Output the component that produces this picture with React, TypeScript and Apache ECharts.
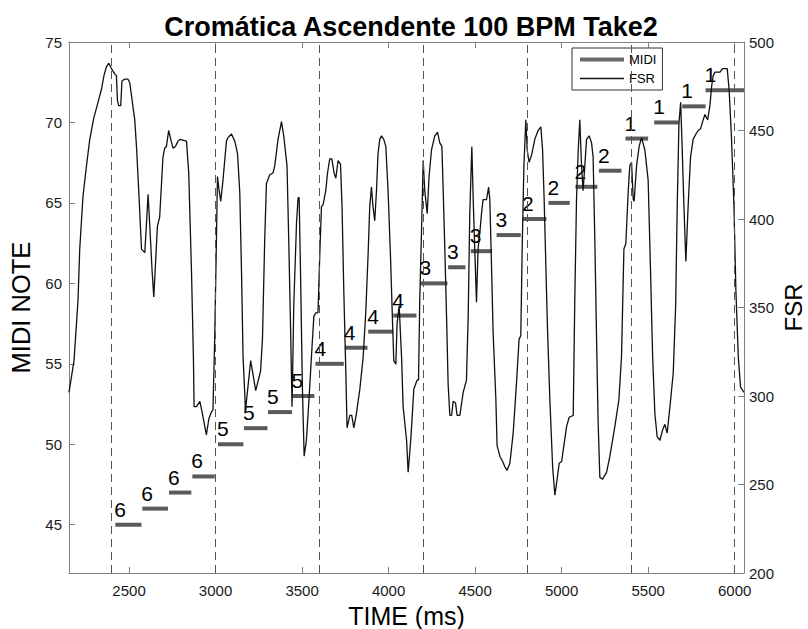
import React, { useEffect, useRef } from "react";
import * as echarts from "echarts";

const FONT = "Liberation Sans";

const TITLE = "Cromática Ascendente 100 BPM Take2";

// MIDI notes (time in ms)
const noteStart = [2421, 2577, 2731, 2866, 3014, 3164, 3303, 3444, 3577, 3747, 3882, 4027, 4184, 4344, 4475, 4624, 4777, 4924, 5080, 5216, 5369, 5535, 5697, 5832];
const noteEnd = [2572, 2725, 2860, 2995, 3161, 3300, 3442, 3571, 3741, 3878, 4027, 4161, 4340, 4444, 4598, 4764, 4912, 5047, 5207, 5346, 5500, 5677, 5832, 6054];
const notePitch = [45, 46, 47, 48, 50, 51, 52, 53, 55, 56, 57, 58, 60, 61, 62, 63, 64, 65, 66, 67, 69, 70, 71, 72];
const noteString = [6, 6, 6, 6, 5, 5, 5, 5, 4, 4, 4, 4, 3, 3, 3, 3, 2, 2, 2, 2, 1, 1, 1, 1];

// beat markers (ms)
const beatTimes = [2400, 3000, 3600, 4200, 4800, 5400, 6000];

// tick labels
const xTicks = [2500, 3000, 3500, 4000, 4500, 5000, 5500, 6000];
const midiTicks = [45, 50, 55, 60, 65, 70, 75];
const fsrTicks = [200, 250, 300, 350, 400, 450, 500];

// FSR samples [time ms, value]
const fsrSamples: [number, number][] = [
  [2153, 302], [2182, 320], [2205, 354], [2215, 383], [2234, 413], [2254, 430], [2273, 445], [2296, 457],
  [2321, 466], [2340, 473], [2355, 481], [2369, 486], [2383, 488], [2398, 485], [2417, 482], [2427, 481],
  [2433, 467], [2440, 464], [2452, 464], [2459, 478], [2475, 479], [2494, 479], [2504, 477], [2533, 456],
  [2543, 441], [2556, 416], [2572, 383], [2591, 381], [2600, 396], [2610, 414], [2620, 396], [2633, 371],
  [2643, 356], [2652, 373], [2664, 396], [2677, 401], [2696, 435], [2706, 440], [2716, 441], [2729, 450],
  [2741, 445], [2754, 440], [2768, 441], [2783, 444], [2793, 445], [2832, 444], [2845, 426], [2861, 370],
  [2872, 322], [2876, 294], [2890, 294], [2909, 297], [2922, 291], [2947, 278], [2961, 287], [2976, 291],
  [2985, 292], [2995, 332], [3005, 388], [3011, 424], [3018, 418], [3030, 410], [3043, 422], [3063, 444],
  [3072, 446], [3092, 448], [3111, 444], [3127, 437], [3140, 415], [3150, 370], [3159, 322], [3173, 292],
  [3203, 320], [3232, 303], [3260, 314], [3271, 332], [3284, 388], [3294, 420], [3313, 425], [3332, 426],
  [3342, 430], [3361, 445], [3381, 455], [3394, 447], [3413, 430], [3423, 388], [3433, 341], [3442, 294],
  [3452, 351], [3468, 398], [3477, 412], [3483, 412], [3491, 370], [3502, 304], [3512, 266], [3525, 275],
  [3540, 298], [3554, 322], [3568, 345], [3579, 347], [3592, 347], [3602, 379], [3612, 407], [3621, 408],
  [3637, 416], [3647, 426], [3660, 434], [3672, 434], [3685, 426], [3695, 423], [3708, 433], [3722, 431],
  [3731, 407], [3741, 360], [3753, 313], [3760, 282], [3776, 289], [3787, 289], [3799, 282], [3814, 290],
  [3834, 304], [3853, 322], [3868, 347], [3882, 381], [3891, 407], [3901, 418], [3910, 407], [3920, 399],
  [3930, 416], [3939, 437], [3949, 445], [3959, 447], [3972, 445], [3984, 441], [3997, 416], [4011, 379],
  [4023, 341], [4030, 320], [4042, 318], [4049, 341], [4061, 351], [4075, 322], [4084, 294], [4104, 275],
  [4113, 257], [4128, 275], [4146, 304], [4165, 309], [4173, 309], [4180, 354], [4190, 392], [4200, 433],
  [4209, 416], [4223, 403], [4234, 424], [4248, 439], [4267, 447], [4283, 449], [4296, 443], [4308, 441],
  [4315, 418], [4325, 383], [4335, 345], [4344, 307], [4354, 289], [4364, 289], [4373, 297], [4387, 296],
  [4396, 289], [4412, 289], [4431, 302], [4450, 309], [4460, 345], [4469, 402], [4481, 441], [4489, 411],
  [4498, 383], [4508, 353], [4517, 383], [4527, 392], [4537, 403], [4546, 411], [4566, 411], [4578, 418],
  [4585, 411], [4595, 373], [4604, 336], [4620, 298], [4627, 272], [4643, 266], [4659, 263], [4672, 260],
  [4685, 258], [4701, 262], [4720, 279], [4739, 307], [4754, 332], [4764, 334], [4772, 383], [4782, 430],
  [4793, 456], [4801, 439], [4812, 432], [4826, 436], [4845, 445], [4864, 450], [4880, 452], [4890, 439],
  [4899, 411], [4909, 373], [4919, 336], [4932, 298], [4948, 260], [4961, 244], [4974, 253], [4986, 262],
  [5000, 263], [5013, 272], [5029, 283], [5044, 288], [5067, 289], [5076, 354], [5086, 411], [5096, 439],
  [5105, 456], [5115, 430], [5124, 416], [5134, 430], [5144, 445], [5159, 447], [5173, 443], [5182, 435],
  [5192, 388], [5202, 332], [5211, 285], [5221, 254], [5237, 253], [5260, 257], [5279, 266], [5308, 283],
  [5331, 298], [5346, 322], [5360, 383], [5371, 386], [5385, 416], [5394, 430], [5404, 432], [5414, 411],
  [5419, 410], [5433, 430], [5448, 441], [5462, 446], [5481, 439], [5500, 422], [5514, 370], [5526, 322],
  [5539, 290], [5552, 277], [5568, 275], [5584, 281], [5597, 284], [5610, 279], [5626, 294], [5645, 313],
  [5659, 351], [5668, 407], [5678, 454], [5688, 466], [5695, 445], [5707, 407], [5718, 376], [5731, 407],
  [5745, 435], [5760, 445], [5776, 448], [5789, 450], [5803, 451], [5815, 455], [5828, 459], [5844, 456],
  [5857, 464], [5867, 475], [5876, 481], [5886, 483], [5896, 483], [5905, 483], [5915, 483], [5930, 485],
  [5944, 485], [5957, 485], [5968, 473], [5982, 445], [5996, 407], [6007, 360], [6021, 322], [6034, 305],
  [6054, 302],
];

const X_MIN = 2153;
const X_MAX = 6054;

export default function App() {
  const ref = useRef<HTMLDivElement>(null);

  useEffect(() => {
    if (!ref.current) return;
    const chart = echarts.init(ref.current, null, { renderer: "svg" });

    const noteData = noteStart.map((s, i) => [s, noteEnd[i], notePitch[i], noteString[i]]);

    const axisGray = "#808080";
    const labelColor = "#1a1a1a";
    const plain = (v: number) => String(v);
    const hiddenSymbol = { color: "rgba(0,0,0,0)", borderWidth: 0, opacity: 0 };

    const option: any = {
      animation: false,
      backgroundColor: "#ffffff",
      textStyle: { fontFamily: FONT },
      title: {
        text: TITLE,
        left: 406,
        textAlign: "center",
        top: 8,
        textStyle: { fontFamily: FONT, fontSize: 27, fontWeight: "bold", color: "#000" },
      },
      legend: {
        data: [
          { name: "MIDI", lineStyle: { width: 4, color: "#6a6a6a" }, itemStyle: hiddenSymbol },
          { name: "FSR", lineStyle: { width: 1.3, color: "#111" }, itemStyle: hiddenSymbol },
        ],
        orient: "vertical",
        left: 572,
        top: 48,
        padding: [5, 6, 5, 6],
        itemGap: 6,
        itemWidth: 44,
        itemHeight: 12,
        borderColor: "#333",
        borderWidth: 1,
        borderRadius: 0,
        backgroundColor: "#fff",
        selectedMode: false,
        textStyle: { fontFamily: FONT, fontSize: 13, color: "#000" },
      },
      grid: {
        left: 69,
        right: 64,
        top: 42,
        bottom: 56,
        containLabel: false,
        outerBoundsMode: "none",
      },
      xAxis: [
        {
          type: "value",
          min: X_MIN,
          max: X_MAX,
          position: "bottom",
          name: "TIME (ms)",
          nameLocation: "middle",
          nameGap: 30,
          nameTextStyle: { fontFamily: FONT, fontSize: 25, color: "#000" },
          axisLine: { show: true, onZero: false, lineStyle: { color: axisGray, width: 1 } },
          axisTick: { show: true, inside: true, length: 6, customValues: xTicks, lineStyle: { color: axisGray } },
          axisLabel: { show: true, customValues: xTicks, formatter: plain, margin: 10, fontSize: 15, fontFamily: FONT, color: labelColor },
          splitLine: { show: false },
        },
        {
          type: "value",
          min: X_MIN,
          max: X_MAX,
          position: "top",
          axisLine: { show: true, onZero: false, lineStyle: { color: axisGray, width: 1 } },
          axisTick: { show: true, inside: true, length: 6, customValues: xTicks, lineStyle: { color: axisGray } },
          axisLabel: { show: false },
          splitLine: { show: false },
        },
      ],
      yAxis: [
        {
          type: "value",
          min: 42,
          max: 75,
          position: "left",
          name: "MIDI NOTE",
          nameLocation: "middle",
          nameGap: 32,
          nameTextStyle: { fontFamily: FONT, fontSize: 25.5, color: "#000" },
          axisLine: { show: true, onZero: false, lineStyle: { color: axisGray, width: 1 } },
          axisTick: { show: true, inside: true, length: 6, customValues: midiTicks, lineStyle: { color: axisGray } },
          axisLabel: { show: true, customValues: midiTicks, formatter: plain, margin: 7, fontSize: 15, fontFamily: FONT, color: labelColor },
          splitLine: { show: false },
        },
        {
          type: "value",
          min: 200,
          max: 500,
          position: "right",
          name: "FSR",
          nameLocation: "middle",
          nameGap: 37,
          nameMoveOverlap: false,
          nameTextStyle: { fontFamily: FONT, fontSize: 24, color: "#000" },
          axisLine: { show: true, onZero: false, lineStyle: { color: axisGray, width: 1 } },
          axisTick: { show: true, inside: true, length: 6, customValues: fsrTicks, lineStyle: { color: axisGray } },
          axisLabel: { show: true, customValues: fsrTicks, formatter: plain, margin: 5, fontSize: 15, fontFamily: FONT, color: labelColor },
          splitLine: { show: false },
        },
      ],
      series: [
        {
          name: "MIDI",
          type: "line",
          xAxisIndex: 0,
          yAxisIndex: 0,
          data: [],
          symbol: "none",
          lineStyle: { width: 4, color: "#6a6a6a" },
          itemStyle: { color: "#6a6a6a" },
        },
        {
          name: "notes",
          type: "custom",
          xAxisIndex: 0,
          yAxisIndex: 0,
          clip: true,
          z: 2,
          encode: { x: [0, 1], y: 2 },
          data: noteData,
          renderItem: (params: any, api: any) => {
            const s = api.coord([api.value(0), api.value(2)]);
            const e = api.coord([api.value(1), api.value(2)]);
            return {
              type: "group",
              children: [
                {
                  type: "line",
                  shape: { x1: s[0], y1: s[1], x2: e[0], y2: e[1] },
                  style: { stroke: "#5a5a5a", lineWidth: 4 },
                },
                {
                  type: "text",
                  x: s[0] - 1,
                  y: s[1] - 15.5,
                  style: {
                    text: String(api.value(3)),
                    fill: "#000",
                    fontSize: 21,
                    fontFamily: FONT,
                    align: "left",
                    verticalAlign: "middle",
                  },
                },
              ],
            };
          },
        },
        {
          name: "FSR",
          type: "line",
          xAxisIndex: 0,
          yAxisIndex: 1,
          data: fsrSamples,
          symbol: "none",
          z: 3,
          lineStyle: { width: 1.3, color: "#111" },
          itemStyle: { color: "#111" },
          markLine: {
            silent: true,
            symbol: ["none", "none"],
            label: { show: false },
            lineStyle: { type: [8, 5], color: "#555", width: 1 },
            data: beatTimes.map((t) => ({ xAxis: t })),
          },
        },
      ],
    };

    chart.setOption(option);
    return () => chart.dispose();
  }, []);

  return (
    <div
      ref={ref}
      style={{ position: "fixed", left: 0, top: 0, width: 808, height: 629, background: "#fff" }}
    />
  );
}
